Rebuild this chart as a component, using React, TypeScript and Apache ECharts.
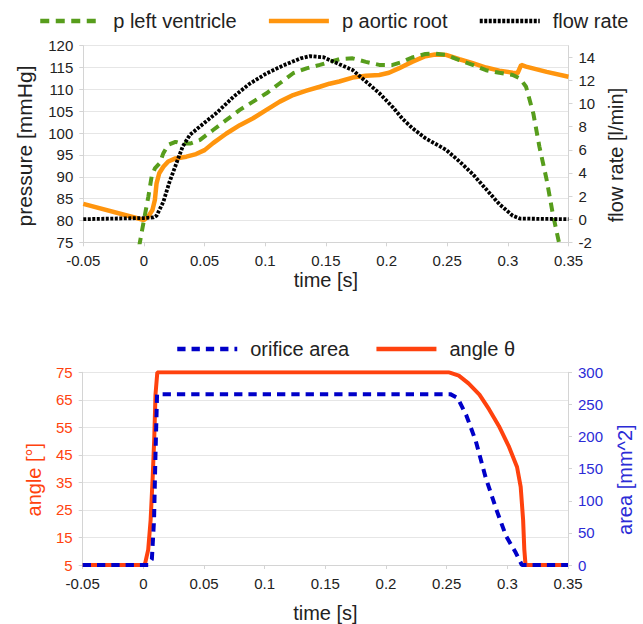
import React, { useEffect, useRef } from "react";
import * as echarts from "echarts";

// ---- top chart data ----
const lvTime = [-0.004, 0, 0.0036, 0.0063, 0.009, 0.013, 0.016, 0.02, 0.026, 0.031, 0.038, 0.046, 0.057, 0.068, 0.079, 0.09, 0.101, 0.112, 0.123, 0.134, 0.145, 0.152, 0.161, 0.172, 0.183, 0.194, 0.205, 0.213, 0.221, 0.232, 0.24, 0.249, 0.26, 0.271, 0.282, 0.293, 0.304, 0.31, 0.315, 0.321, 0.326, 0.332, 0.337, 0.3425];
const lvPressure = [74, 80.1, 85.4, 90, 91.9, 93.1, 95.4, 97.3, 98.0, 97.6, 97.6, 98.4, 100.7, 103, 105.3, 107.2, 109.1, 111.4, 113.7, 114.8, 115.6, 116.2, 116.9, 117.1, 116.3, 115.6, 115.6, 116.3, 117.3, 118.1, 118.2, 117.9, 116.7, 115.6, 114.4, 113.8, 113.3, 112.5, 110.6, 104.5, 96.9, 89.3, 81.6, 74.5];

const aoTime = [-0.05, 0, 0.0036, 0.007, 0.009, 0.0104, 0.0126, 0.016, 0.02, 0.026, 0.035, 0.043, 0.05, 0.057, 0.068, 0.079, 0.09, 0.101, 0.112, 0.123, 0.134, 0.145, 0.153, 0.161, 0.172, 0.183, 0.194, 0.202, 0.21, 0.221, 0.232, 0.24, 0.249, 0.26, 0.271, 0.282, 0.293, 0.304, 0.308, 0.311, 0.315, 0.332, 0.35];
const aoPressure = [83.8, 80.1, 80.9, 82.4, 84.7, 88.5, 90.8, 92.3, 93.5, 94.2, 94.6, 95.2, 96.1, 97.7, 99.9, 101.8, 103.4, 105.3, 107.2, 108.7, 109.7, 110.6, 111.3, 111.8, 112.7, 113.1, 113.3, 113.8, 114.8, 116.3, 117.6, 118.0, 117.9, 116.9, 116.0, 115.0, 114.3, 113.8, 113.7, 115.6, 115.2, 114.0, 112.9];

const flowTime = [-0.05, 0, 0.008, 0.0104, 0.016, 0.021, 0.027, 0.032, 0.038, 0.046, 0.06, 0.074, 0.087, 0.101, 0.115, 0.129, 0.137, 0.148, 0.161, 0.172, 0.183, 0.194, 0.205, 0.213, 0.221, 0.232, 0.249, 0.26, 0.271, 0.282, 0.293, 0.304, 0.31, 0.35];
const flowRate = [0, 0.1, 0.15, 0.3, 1.5, 3.2, 4.9, 6.3, 7.3, 8.0, 9.2, 10.6, 11.7, 12.6, 13.3, 13.9, 14.1, 14.0, 13.4, 12.9, 11.9, 10.9, 9.7, 8.7, 7.9, 7.0, 6.0, 5.0, 3.9, 2.6, 1.3, 0.3, 0.05, 0];

// ---- bottom chart data ----
const angleTime = [-0.05, 0, 0.0014, 0.004, 0.006, 0.0077, 0.009, 0.01, 0.0115, 0.252, 0.26, 0.268, 0.277, 0.285, 0.293, 0.301, 0.308, 0.311, 0.313, 0.314, 0.315, 0.35];
const angleDeg = [5, 5, 5.5, 10.6, 21.4, 37, 51.3, 66.9, 75, 75, 73.8, 71, 66.9, 61.5, 55.5, 48.3, 40.6, 33.4, 21.4, 10.6, 5, 5];

const areaTime = [-0.05, 0.004, 0.007, 0.0088, 0.01, 0.0113, 0.253, 0.259, 0.266, 0.274, 0.282, 0.291, 0.299, 0.307, 0.312, 0.35];
const areaMm2 = [0, 0, 8.7, 70, 173, 266, 266, 260, 234, 193, 137, 86, 45, 19, 0, 0];

const topLegend = ["p left ventricle", "p aortic root", "flow rate"];
const bottomLegend = ["orifice area", "angle θ"];

const zip = (xs: number[], ys: number[]) => xs.map((x, i) => [x, ys[i]]);

const FONT = "Liberation Sans";
const GRID_LINE = "#e6e6e6";
const AXIS_LINE = "#d4d4d4";
const TEXT = "#222";
const GREEN = "#579d1c";
const ORANGE = "#ff950e";
const RED = "#ff420e";
const BLUE = "#0000c8";
const BLUE_TEXT = "#2b2bd6";

function xAxis(gridIndex: number, nameGap: number) {
  return {
    type: "value",
    gridIndex,
    min: -0.05,
    max: 0.35,
    interval: 0.05,
    name: "time [s]",
    nameLocation: "middle",
    nameGap,
    nameTextStyle: { fontFamily: FONT, fontSize: 20, color: TEXT },
    axisLine: { show: true, onZero: false, lineStyle: { color: AXIS_LINE } },
    axisTick: { show: true, length: 4, lineStyle: { color: AXIS_LINE } },
    axisLabel: { fontFamily: FONT, fontSize: 15, color: TEXT, margin: 11 },
    splitLine: { show: false },
  };
}

function yAxis(opts: any) {
  const { color, nameColor, split, pad, nameSize, ...rest } = opts;
  return {
    type: "value",
    nameLocation: "middle",
    nameTextStyle: { fontFamily: FONT, fontSize: nameSize || 20, color: nameColor, padding: pad },
    axisLine: { show: true, onZero: false, lineStyle: { color: AXIS_LINE } },
    axisTick: { show: true, length: 4, lineStyle: { color: AXIS_LINE } },
    axisLabel: { fontFamily: FONT, fontSize: 15, color, margin: 10 },
    splitLine: { show: split, lineStyle: { color: GRID_LINE } },
    ...rest,
  };
}

export default function App() {
  const ref = useRef<HTMLDivElement>(null);
  useEffect(() => {
    const chart = echarts.init(ref.current!, null, { renderer: "svg" });
    const legendText = { fontFamily: FONT, fontSize: 20, color: TEXT, padding: [0, 0, 0, 8] };
    chart.setOption({
      animation: false,
      backgroundColor: "#fff",
      textStyle: { fontFamily: FONT },
      legend: [
        {
          data: topLegend,
          left: 33,
          top: 6,
          itemWidth: 60,
          itemHeight: 14,
          itemGap: 30,
          itemStyle: { opacity: 0 },
          lineStyle: { width: 4.5 },
          textStyle: legendText,
        },
        {
          data: bottomLegend,
          left: 170,
          top: 334,
          itemWidth: 60,
          itemHeight: 14,
          itemGap: 25,
          itemStyle: { opacity: 0 },
          lineStyle: { width: 4.5 },
          textStyle: legendText,
        },
      ],
      grid: [
        { left: 83.3, right: 74.5, top: 45.7, height: 196.6, containLabel: false },
        { left: 82.7, right: 74, top: 372.3, height: 195, containLabel: false },
      ],
      xAxis: [xAxis(0, 28), xAxis(1, 38)],
      yAxis: [
        yAxis({
          gridIndex: 0, position: "left", min: 75, max: 120, interval: 5,
          name: "pressure [mmHg]", nameGap: 48, nameSize: 21, color: TEXT, nameColor: TEXT, split: true, pad: [0, 4, 0, 0],
        }),
        yAxis({
          gridIndex: 0, position: "right", min: -2, max: 15, interval: 2,
          name: "flow rate [l/min]", nameGap: 36, color: TEXT, nameColor: TEXT, split: false, pad: [0, 22, 0, 0],
          axisLabel: { fontFamily: FONT, fontSize: 15, color: TEXT, margin: 10, showMaxLabel: false },
        }),
        yAxis({
          gridIndex: 1, position: "left", min: 5, max: 75, interval: 10,
          name: "angle [°]", nameGap: 39, color: RED, nameColor: RED, split: true, pad: [0, 22, 0, 0],
        }),
        yAxis({
          gridIndex: 1, position: "right", min: 0, max: 300, interval: 50,
          name: "area [mm^2]", nameGap: 47, color: BLUE_TEXT, nameColor: BLUE_TEXT, split: false, pad: [0, 22, 0, 0],
        }),
      ],
      series: [
        {
          name: "p aortic root", type: "line", xAxisIndex: 0, yAxisIndex: 0,
          data: zip(aoTime, aoPressure), showSymbol: false, symbol: "none",
          lineStyle: { color: ORANGE, width: 4.5, type: "solid" }, itemStyle: { color: ORANGE },
        },
        {
          name: "p left ventricle", type: "line", xAxisIndex: 0, yAxisIndex: 0,
          data: zip(lvTime, lvPressure), showSymbol: false, symbol: "none",
          lineStyle: { color: GREEN, width: 4, type: [9, 6.5] }, itemStyle: { color: GREEN },
        },
        {
          name: "flow rate", type: "line", xAxisIndex: 0, yAxisIndex: 1,
          data: zip(flowTime, flowRate), showSymbol: false, symbol: "none",
          lineStyle: { color: "#000", width: 3.8, type: [3, 1.5] }, itemStyle: { color: "#000" },
        },
        {
          name: "angle θ", type: "line", xAxisIndex: 1, yAxisIndex: 2,
          data: zip(angleTime, angleDeg), showSymbol: false, symbol: "none",
          lineStyle: { color: RED, width: 4, type: "solid" }, itemStyle: { color: RED },
        },
        {
          name: "orifice area", type: "line", xAxisIndex: 1, yAxisIndex: 3,
          data: zip(areaTime, areaMm2), showSymbol: false, symbol: "none",
          lineStyle: { color: BLUE, width: 4, type: [8.3, 6] }, itemStyle: { color: BLUE },
        },
      ],
    });
    return () => chart.dispose();
  }, []);
  return (
    <div
      ref={ref}
      style={{ position: "absolute", left: 0, top: 0, width: 643, height: 624, background: "#fff" }}
    />
  );
}
